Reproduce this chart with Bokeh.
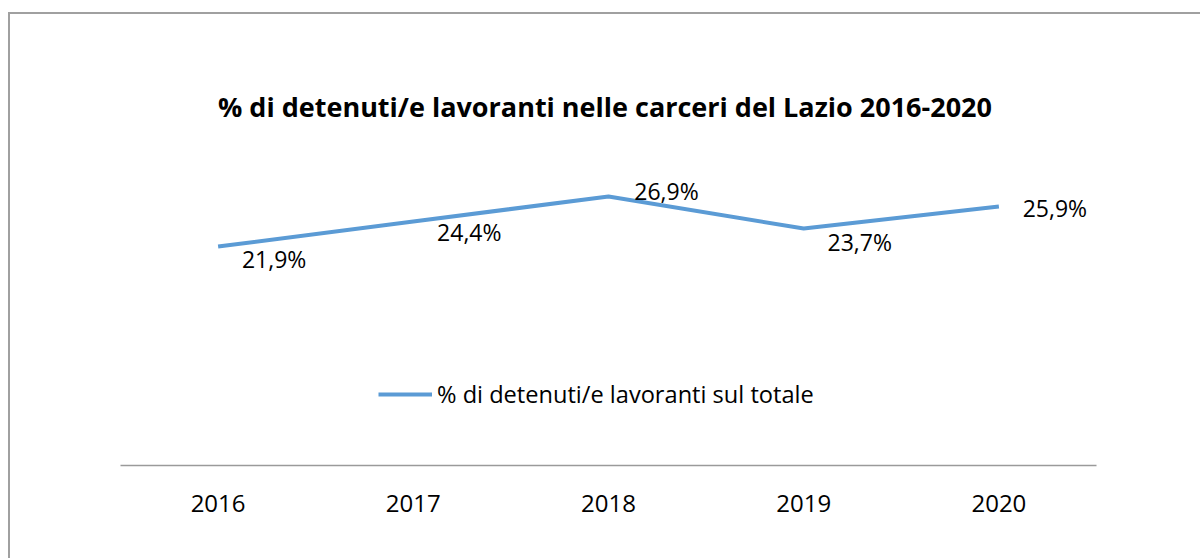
from bokeh.plotting import figure
from bokeh.models import (ColumnDataSource, FactorRange, Range1d, LabelSet,
                          Legend, LegendItem, Title, InlineStyleSheet)
from bokeh.core.properties import value
from bokeh.embed import file_html
from bokeh.resources import INLINE

# ---- data ----
years = ["2016", "2017", "2018", "2019", "2020"]
share = [21.9, 24.4, 26.9, 23.7, 25.9]
labels = ["21,9%", "24,4%", "26,9%", "23,7%", "25,9%"]
series_name = "% di detenuti/e lavoranti sul totale"
title_text = "% di detenuti/e lavoranti nelle carceri  del Lazio 2016-2020"

# label placement (screen offsets, px)
label_dx = [56, 56, 58, 56, 56]
label_dy = [-12, -10, 6, -13, -1]

FONT = "Open Sans"
BLUE = "#5B9BD5"

src = ColumnDataSource(dict(x=years, y=share, lab=labels, dx=label_dx, dy=label_dy))

p = figure(width=1184, height=542, output_backend="svg", toolbar_location=None,
           x_range=FactorRange(*years, range_padding=0),
           y_range=Range1d(0, 30),
           min_border_left=120, min_border_right=88,
           min_border_top=165, min_border_bottom=77,
           title=None)
p.outline_line_color = None
p.background_fill_color = "white"
p.border_fill_color = "white"
p.xgrid.visible = False
p.ygrid.visible = False
p.yaxis.visible = False

ax = p.xaxis[0]
ax.axis_line_color = "#9a9a9a"
ax.axis_line_width = 1.5
ax.major_tick_line_color = None
ax.minor_tick_line_color = None
ax.major_label_standoff = 23
ax.major_label_text_font = FONT
ax.major_label_text_font_size = "24px"
ax.major_label_text_color = "black"

line = p.line("x", "y", source=src, line_color=BLUE, line_width=4)

lbls = LabelSet(x="x", y="y", text="lab", source=src, x_offset="dx", y_offset="dy",
                text_align="center", text_baseline="middle",
                text_font=value(FONT), text_font_size="23px", text_color="black")
p.add_layout(lbls)

legend = Legend(items=[LegendItem(label=series_name, renderers=[line])],
                location=(258, 55), orientation="horizontal",
                padding=0, margin=0, border_line_color=None,
                background_fill_alpha=0, glyph_width=54, glyph_height=30,
                label_height=30, label_standoff=5,
                label_text_font=FONT, label_text_font_size="23.6px",
                label_text_color="black")
p.add_layout(legend, "center")

t = Title(text=title_text, align="center", text_font=FONT, text_font_size="27px",
          text_font_style="bold", text_color="black", standoff=82, offset=6)
p.add_layout(t, "above")

frame_css = InlineStyleSheet(css="""
:host { position: relative; }
:host::after {
  content: ""; position: absolute; left: 8px; top: 12px; right: -40px; bottom: -40px;
  border-left: 2px solid #a0a0a0; border-top: 2px solid #a0a0a0;
  pointer-events: none;
}
""")
p.stylesheets = [frame_css]

open("out.html", "w").write(file_html(p, INLINE))
